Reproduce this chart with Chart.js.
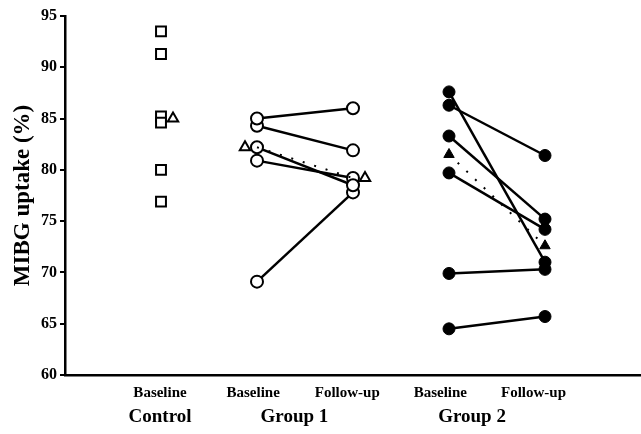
<!DOCTYPE html>
<html>
<head>
<meta charset="utf-8">
<script src="https://cdn.jsdelivr.net/npm/chart.js@4.4.1/dist/chart.umd.min.js"></script>
<style>
  html, body { margin: 0; padding: 0; background: #fff; }
  #wrap { width: 641px; height: 434px; position: relative; }
</style>
</head>
<body>
<div id="wrap"><canvas id="mibgChart"></canvas></div>
<script>
// values (MIBG uptake, %)
const controlBaseline = [93.5, 91.3, 85.2, 84.6, 80.0, 76.9];
const controlMean = [85.0];
const group1Baseline = [85.0, 84.3, 82.2, 80.9, 69.1];
const group1FollowUp = [86.0, 81.9, 78.5, 79.2, 77.8];
const group1Mean = [82.2, 79.2];
const group2Baseline = [87.6, 86.3, 83.3, 79.7, 69.9, 64.5];
const group2FollowUp = [71.0, 81.4, 75.2, 74.2, 70.3, 65.7];
const group2Mean = [81.5, 72.6];

const timeLabels = ['Baseline', 'Baseline', 'Follow-up', 'Baseline', 'Follow-up'];
const groupLabels = ['Control', 'Group 1', 'Group 2'];
const yTicks = [60, 65, 70, 75, 80, 85, 90, 95];

// x slots: 1 = control, 2/3 = group 1, 4/5 = group 2
const timeTickPos = [0.99, 1.96, 2.94, 3.91, 4.88];
const groupTickPos = [0.99, 2.39, 4.24];

const FONT = "'Liberation Serif', 'Times New Roman', serif";

const datasets = [];

// control squares
datasets.push({
    data: controlBaseline.map(v => ({ x: 1, y: v })),
    showLine: false,
    pointStyle: 'rect',
    pointRadius: 7,
    pointBorderWidth: 2,
    pointBackgroundColor: '#fff',
    pointBorderColor: '#000'
});
datasets.push({
    data: controlMean.map(v => ({ x: 1.125, y: v })),
    showLine: false,
    pointStyle: 'triangle',
    pointRadius: 6,
    pointBorderWidth: 2,
    pointBackgroundColor: '#fff',
    pointBorderColor: '#000'
});

// group 1 mean dotted line + hollow triangles
datasets.push({
    data: group1Mean.map((v, i) => ({ x: 2 + i, y: v })),
    showLine: true,
    borderColor: '#000',
    borderWidth: 2,
    borderDash: [2, 10],
    pointRadius: 0
});
datasets.push({
    data: group1Mean.map((v, i) => ({ x: i === 0 ? 1.875 : 3.125, y: v })),
    showLine: false,
    pointStyle: 'triangle',
    pointRadius: 6,
    pointBorderWidth: 2,
    pointBackgroundColor: '#fff',
    pointBorderColor: '#000'
});

// group 1 pairs (hollow circles)
group1Baseline.forEach((b, i) => {
    datasets.push({
        data: [{ x: 2, y: b }, { x: 3, y: group1FollowUp[i] }],
        showLine: true,
        borderColor: '#000',
        borderWidth: 2.5,
        pointRadius: 6,
        pointBorderWidth: 2,
        pointBackgroundColor: '#fff',
        pointBorderColor: '#000'
    });
});

// group 2 mean dotted line + filled triangles
datasets.push({
    data: group2Mean.map((v, i) => ({ x: 4 + i, y: v })),
    showLine: true,
    borderColor: '#000',
    borderWidth: 2,
    borderDash: [2, 10],
    pointStyle: 'triangle',
    pointRadius: 6,
    pointBorderWidth: 1,
    pointBackgroundColor: '#000',
    pointBorderColor: '#000'
});

// group 2 pairs (filled circles)
group2Baseline.forEach((b, i) => {
    datasets.push({
        data: [{ x: 4, y: b }, { x: 5, y: group2FollowUp[i] }],
        showLine: true,
        borderColor: '#000',
        borderWidth: 2.5,
        pointRadius: 6,
        pointBorderWidth: 1,
        pointBackgroundColor: '#000',
        pointBorderColor: '#000'
    });
});

function fitBottom(h) {
    return scale => {
        scale.height = h;
        scale.paddingLeft = 0;
        scale.paddingRight = 0;
    };
}

new Chart(document.getElementById('mibgChart'), {
    type: 'scatter',
    data: { datasets },
    options: {
        responsive: true,
        maintainAspectRatio: false,
        animation: false,
        layout: { autoPadding: false, padding: { top: 16, right: 0, bottom: 0, left: 0 } },
        plugins: { legend: { display: false }, tooltip: { enabled: false } },
        scales: {
            x: {
                type: 'linear',
                position: 'bottom',
                min: 0,
                max: 6,
                afterBuildTicks: scale => { scale.ticks = timeTickPos.map(v => ({ value: v })); },
                afterFit: fitBottom(28),
                grid: { display: false, drawTicks: false },
                border: { display: true, color: '#000', width: 2.5 },
                ticks: {
                    color: '#000',
                    padding: 9,
                    maxRotation: 0,
                    autoSkip: false,
                    font: { family: FONT, size: 15, weight: 'bold' },
                    callback: (v, i) => timeLabels[i]
                }
            },
            x2: {
                type: 'linear',
                position: 'bottom',
                min: 0,
                max: 6,
                afterBuildTicks: scale => { scale.ticks = groupTickPos.map(v => ({ value: v })); },
                afterFit: fitBottom(31),
                grid: { display: false, drawTicks: false },
                border: { display: false },
                ticks: {
                    color: '#000',
                    padding: 3,
                    maxRotation: 0,
                    autoSkip: false,
                    font: { family: FONT, size: 19, weight: 'bold' },
                    callback: (v, i) => groupLabels[i]
                }
            },
            y: {
                min: 60,
                max: 95,
                afterBuildTicks: scale => { scale.ticks = yTicks.map(v => ({ value: v })); },
                afterFit: scale => { scale.width = 65; scale.paddingTop = 0; scale.paddingBottom = 0; },
                grid: { display: true, drawOnChartArea: false, drawTicks: true, tickLength: 5, color: '#000', lineWidth: 2 },
                border: { display: true, color: '#000', width: 2.5 },
                ticks: {
                    color: '#000',
                    padding: 3,
                    font: { family: FONT, size: 16, weight: 'bold' }
                },
                title: {
                    display: true,
                    text: 'MIBG uptake (%)',
                    color: '#000',
                    padding: { top: 9, bottom: 0 },
                    font: { family: FONT, size: 23, weight: 'bold' }
                }
            }
        }
    }
});
</script>
</body>
</html>
